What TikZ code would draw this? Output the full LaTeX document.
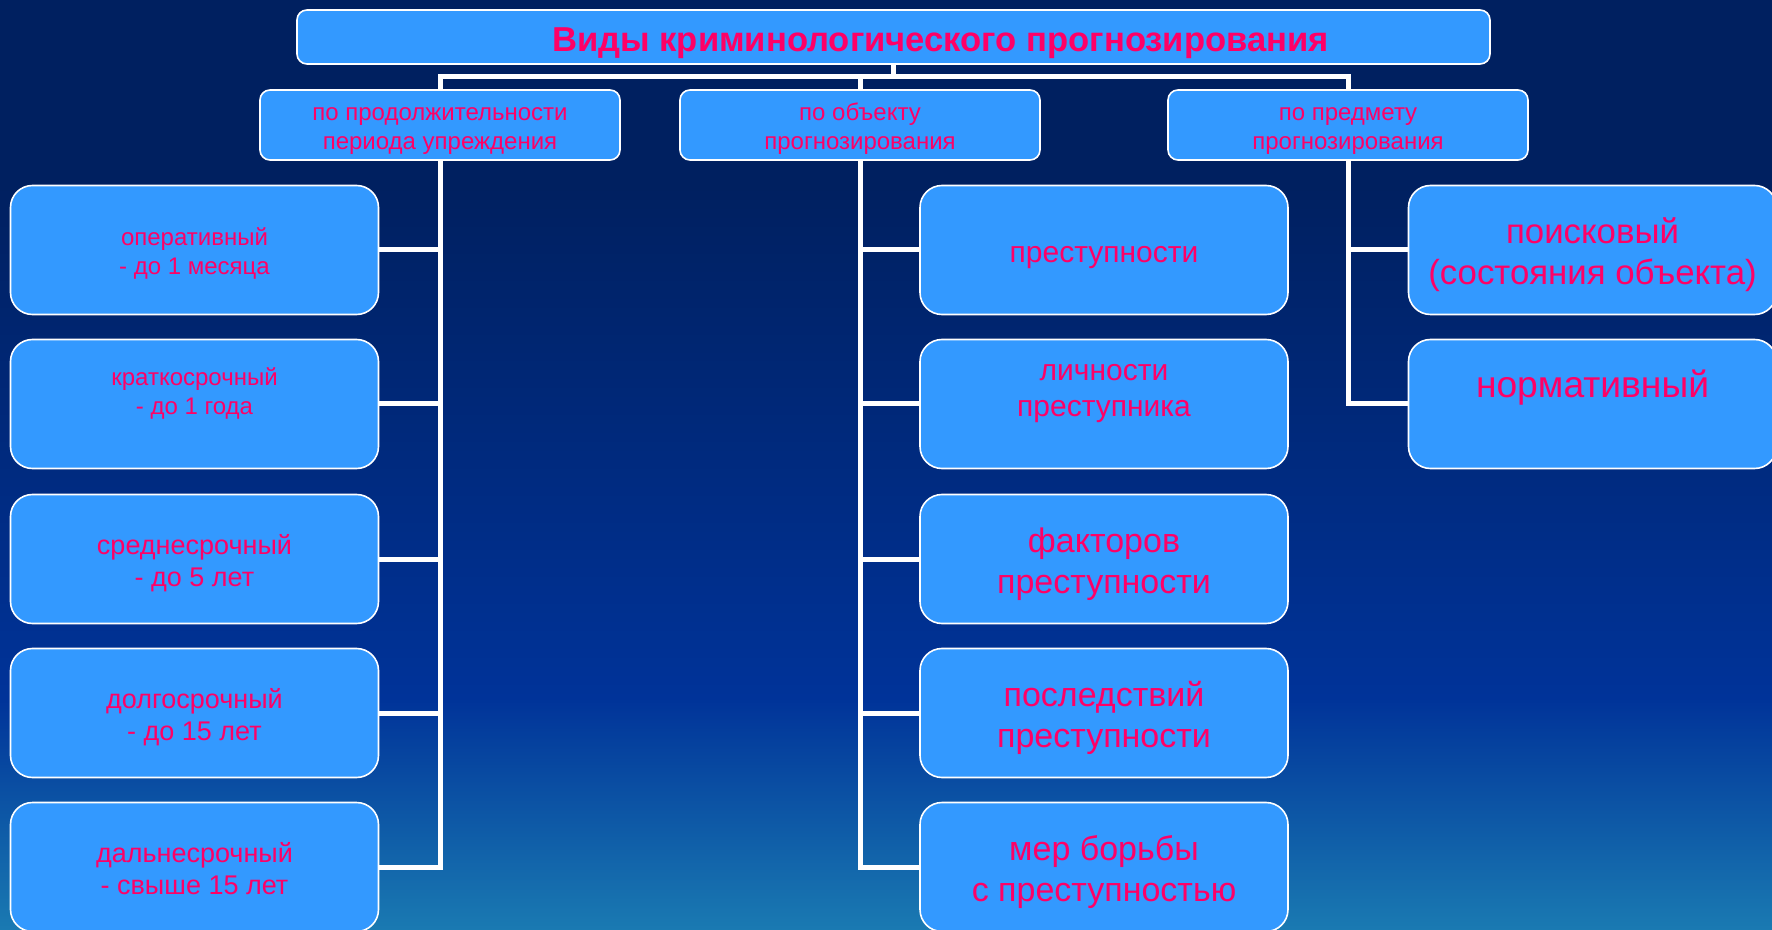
\documentclass[tikz,border=0pt]{standalone}
\usepackage{fontspec}
\setmainfont{Liberation Sans}
\definecolor{bgtop}{RGB}{0,32,96}
\definecolor{bgmid}{RGB}{0,51,153}
\definecolor{bgbot}{RGB}{26,122,178}
\definecolor{boxfill}{RGB}{51,153,255}
\definecolor{boxtext}{RGB}{255,0,102}
\pgfdeclareverticalshading{bgfade}{100bp}{color(0bp)=(bgbot); color(25bp)=(bgbot); color(37.5bp)=(bgmid); color(65bp)=(bgtop); color(100bp)=(bgtop)}
% line struts as in the slide (top and bottom)
\newcommand{\ls}{\rule{0pt}{1.04em}}
\newcommand{\es}{\rule[-0.212em]{0pt}{0.212em}}
\newcommand{\lift}[1]{\rule[-#1]{0pt}{#1}}
\tikzset{
  box/.style={draw=white, line width=0.8pt, fill=boxfill, text=boxtext, align=center, inner sep=2pt},
  titlebox/.style={box, rounded corners=5pt, minimum width=596.5pt, minimum height=27pt, font=\bfseries\fontsize{17.3}{21}\selectfont},
  groupbox/.style={box, rounded corners=5pt, minimum width=180pt, minimum height=35pt, font=\fontsize{12}{14.5}\selectfont},
  leafbox/.style={box, rounded corners=11pt, minimum width=184pt, minimum height=64.5pt},
  txtS/.style={font=\fontsize{12}{14.5}\selectfont},
  txtM/.style={font=\fontsize{13.5}{16}\selectfont},
  txtL/.style={font=\fontsize{15}{18}\selectfont},
  txtXL/.style={font=\fontsize{17}{20.5}\selectfont},
  wire/.style={draw=white, line width=2.5pt}
}
\begin{document}
\begin{tikzpicture}[x=0.5pt,y=-0.5pt]
\useasboundingbox (0,0) rectangle (1772,930);
\clip (0,0) rectangle (1772,930);
\shade[shading=bgfade] (0,0) rectangle (1772,930);

\node[titlebox] (title) at (893.5,37) {\ls\hspace*{47pt}Виды криминологического прогнозирования\es};
\node[groupbox] (bydur) at (440,125) {\ls по продолжительности\\периода упреждения\es};
\node[groupbox] (byobj) at (860,125) {\ls по объекту\\прогнозирования\es};
\node[groupbox] (bysubj) at (1348,125) {\ls по предмету\\прогнозирования\es};

% по продолжительности
\node[leafbox,txtS] (oper) at (194.5,250) {\ls оперативный\\- до 1 месяца\es};
\node[leafbox,txtS] (short) at (194.5,404) {\ls краткосрочный\\- до 1 года\lift{16.5pt}};
\node[leafbox,txtM] (medium) at (194.5,559) {\ls среднесрочный\\- до 5 лет\es};
\node[leafbox,txtM] (long) at (194.5,713) {\ls долгосрочный\\- до 15 лет\es};
\node[leafbox,txtM] (far) at (194.5,867) {\ls дальнесрочный\\- свыше 15 лет\es};

% по объекту
\node[leafbox,txtL] (crime) at (1104,250) {\ls преступности\es};
\node[leafbox,txtL] (person) at (1104,404) {\ls личности\\преступника\lift{21pt}};
\node[leafbox,txtXL] (factors) at (1104,559) {\ls факторов\\преступности\es};
\node[leafbox,txtXL] (effects) at (1104,713) {\ls последствий\\преступности\es};
\node[leafbox,txtXL] (measures) at (1104,867) {\ls мер борьбы\\с преступностью\es};

% по предмету
\node[leafbox,font=\fontsize{17.4}{20.5}\selectfont] (search) at (1592.5,250) {\ls поисковый\\(состояния объекта)\es};
\node[leafbox,font=\fontsize{18.6}{22}\selectfont] (norm) at (1592.5,404) {\ls нормативный\lift{26pt}};

\coordinate (bus) at (893.5,76.5);
\draw[wire] (title.south) -- (bus) -| (bydur.north);
\draw[wire] (bus) -| (byobj.north);
\draw[wire] (bus) -| (bysubj.north);
\foreach \leaf in {oper,short,medium,long,far}
  \draw[wire] (bydur.south) |- (\leaf.east);
\foreach \leaf in {crime,person,factors,effects,measures}
  \draw[wire] (byobj.south) |- (\leaf.west);
\foreach \leaf in {search,norm}
  \draw[wire] (bysubj.south) |- (\leaf.west);
\end{tikzpicture}
\end{document}
